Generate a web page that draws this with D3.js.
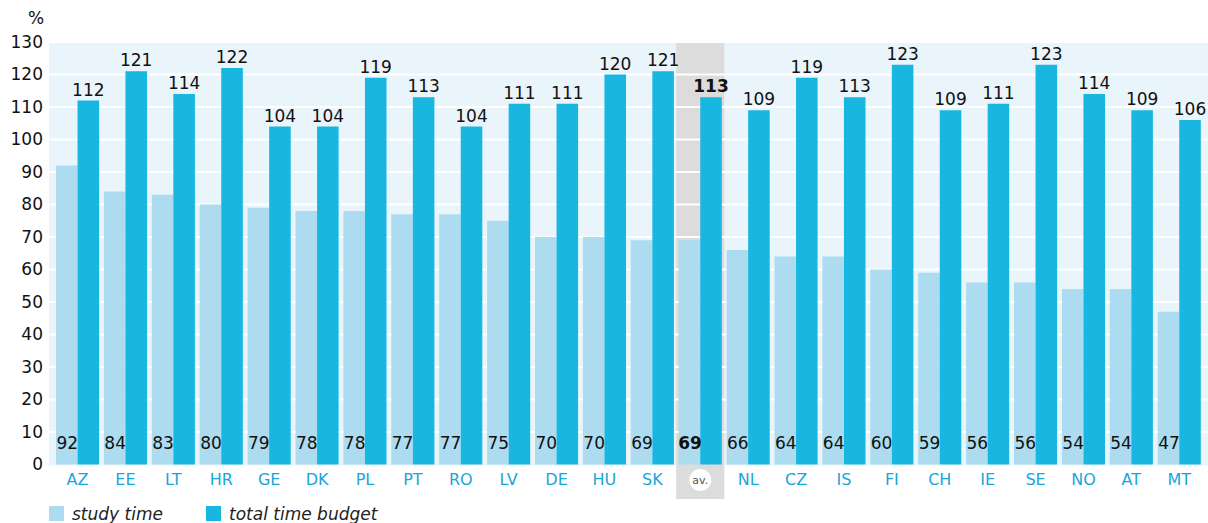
<!DOCTYPE html>
<html>
<head>
<meta charset="utf-8">
<script src="https://cdn.jsdelivr.net/npm/d3@7"></script>
<style>
  body { margin: 0; background: #fff; }
  svg { display: block; font-family: "DejaVu Sans", sans-serif; }
</style>
</head>
<body>
<div id="chart"></div>
<script>
// countries (av. = average)
var countries = ["AZ","EE","LT","HR","GE","DK","PL","PT","RO","LV","DE","HU","SK","av.","NL","CZ","IS","FI","CH","IE","SE","NO","AT","MT"];
// study time, % of reference
var studyTime = [92,84,83,80,79,78,78,77,77,75,70,70,69,69,66,64,64,60,59,56,56,54,54,47];
// total time budget, %
var totalBudget = [112,121,114,122,104,104,119,113,104,111,111,120,121,113,109,119,113,123,109,111,123,114,109,106];
var yTicks = [0,10,20,30,40,50,60,70,80,90,100,110,120,130];
var seriesNames = ["study time", "total time budget"];

var svg_width = 1208;
var svg_height = 523;
var colStudy = "#addcf0";
var colTotal = "#18b7e1";

var data = countries.map(function(c, i){
  return { country: c, study: studyTime[i], total: totalBudget[i] };
});

var svg = d3.select("#chart")
            .append("svg")
            .attr("width", svg_width)
            .attr("height", svg_height);

// scales
var x = d3.scaleBand()
          .domain(countries)
          .range([53.6, 1203.2])
          .paddingInner(0.1)
          .paddingOuter(0.05);

var y = d3.scaleLinear()
          .domain([0, 130])
          .range([464.5, 42]);

var barW = x.bandwidth() / 2;

// plot background
svg.append("rect")
   .attr("x", 49).attr("y", y(130))
   .attr("width", 1208 - 49)
   .attr("height", y(0) - y(130) + 1)
   .style("fill", "#e9f4fb");

// highlighted average column
var avX = x("av.");
svg.append("rect")
   .attr("x", avX - 2.5).attr("y", y(130))
   .attr("width", x.bandwidth() + 5)
   .attr("height", 499 - y(130))
   .style("fill", "#dcdcdc");

// gridlines
svg.append("g")
   .selectAll("line")
   .data(yTicks.filter(d => d > 0))
   .enter().append("line")
   .attr("x1", 49).attr("x2", 1208)
   .attr("y1", d => y(d)).attr("y2", d => y(d))
   .style("stroke", "#fff")
   .style("stroke-width", 2);

// bars
var groups = svg.append("g")
                .selectAll("g")
                .data(data)
                .enter().append("g")
                .attr("transform", d => "translate(" + x(d.country) + ",0)");

groups.append("rect")
      .attr("x", 0)
      .attr("y", d => y(d.study))
      .attr("width", barW)
      .attr("height", d => y(0) - y(d.study))
      .style("fill", colStudy);

groups.append("rect")
      .attr("x", barW)
      .attr("y", d => y(d.total))
      .attr("width", barW)
      .attr("height", d => y(0) - y(d.total))
      .style("fill", colTotal);

// value labels
groups.append("text")
      .attr("x", barW * 1.5)
      .attr("y", d => y(d.total) - 5)
      .attr("text-anchor", "middle")
      .style("font-size", "17px")
      .style("font-weight", d => d.country == "av." ? "bold" : "normal")
      .style("fill", "#111")
      .text(d => d.total);

groups.append("text")
      .attr("x", barW / 2 + 0.5)
      .attr("y", 449)
      .attr("text-anchor", "middle")
      .style("font-size", "17px")
      .style("font-weight", d => d.country == "av." ? "bold" : "normal")
      .style("fill", "#111")
      .text(d => d.study);

// y axis
var yAxis = d3.axisLeft(y).tickValues(yTicks).tickSize(0).tickPadding(0);
var yg = svg.append("g")
            .attr("transform", "translate(43,0)")
            .call(yAxis);
yg.select(".domain").remove();
yg.selectAll("text")
  .style("font-size", "17px")
  .style("font-family", "DejaVu Sans, sans-serif")
  .style("fill", "#111");

svg.append("text")
   .attr("x", 36).attr("y", 24)
   .attr("text-anchor", "middle")
   .style("font-size", "17px")
   .style("fill", "#111")
   .text("%");

// x axis labels
var xAxis = d3.axisBottom(x).tickSize(0).tickPadding(0);
var xg = svg.append("g")
            .attr("transform", "translate(0," + 471 + ")")
            .call(xAxis);
xg.select(".domain").remove();
xg.selectAll(".tick text")
  .attr("dy", "0.9em")
  .style("font-size", "16px")
  .style("font-family", "DejaVu Sans, sans-serif")
  .style("fill", "#1aa5da")
  .text(d => d == "av." ? "" : d);

// av. badge
var avCx = avX + x.bandwidth() / 2;
svg.append("circle")
   .attr("cx", avCx).attr("cy", 480)
   .attr("r", 11)
   .style("fill", "#fff");
svg.append("text")
   .attr("x", avCx).attr("y", 484)
   .attr("text-anchor", "middle")
   .style("font-size", "11px")
   .style("fill", "#555")
   .text("av.");

// legend
var legend = svg.append("g")
                .attr("transform", "translate(49,506)");
var legItems = legend.selectAll("g")
                     .data(seriesNames)
                     .enter().append("g")
                     .attr("transform", (d, i) => "translate(" + (i * 157) + ",0)");
legItems.append("rect")
        .attr("width", 15).attr("height", 15)
        .style("fill", (d, i) => i == 0 ? colStudy : colTotal);
legItems.append("text")
        .attr("x", 23).attr("y", 14)
        .style("font-size", "17px")
        .style("font-style", "italic")
        .style("fill", "#222")
        .text(d => d);
</script>
</body>
</html>
